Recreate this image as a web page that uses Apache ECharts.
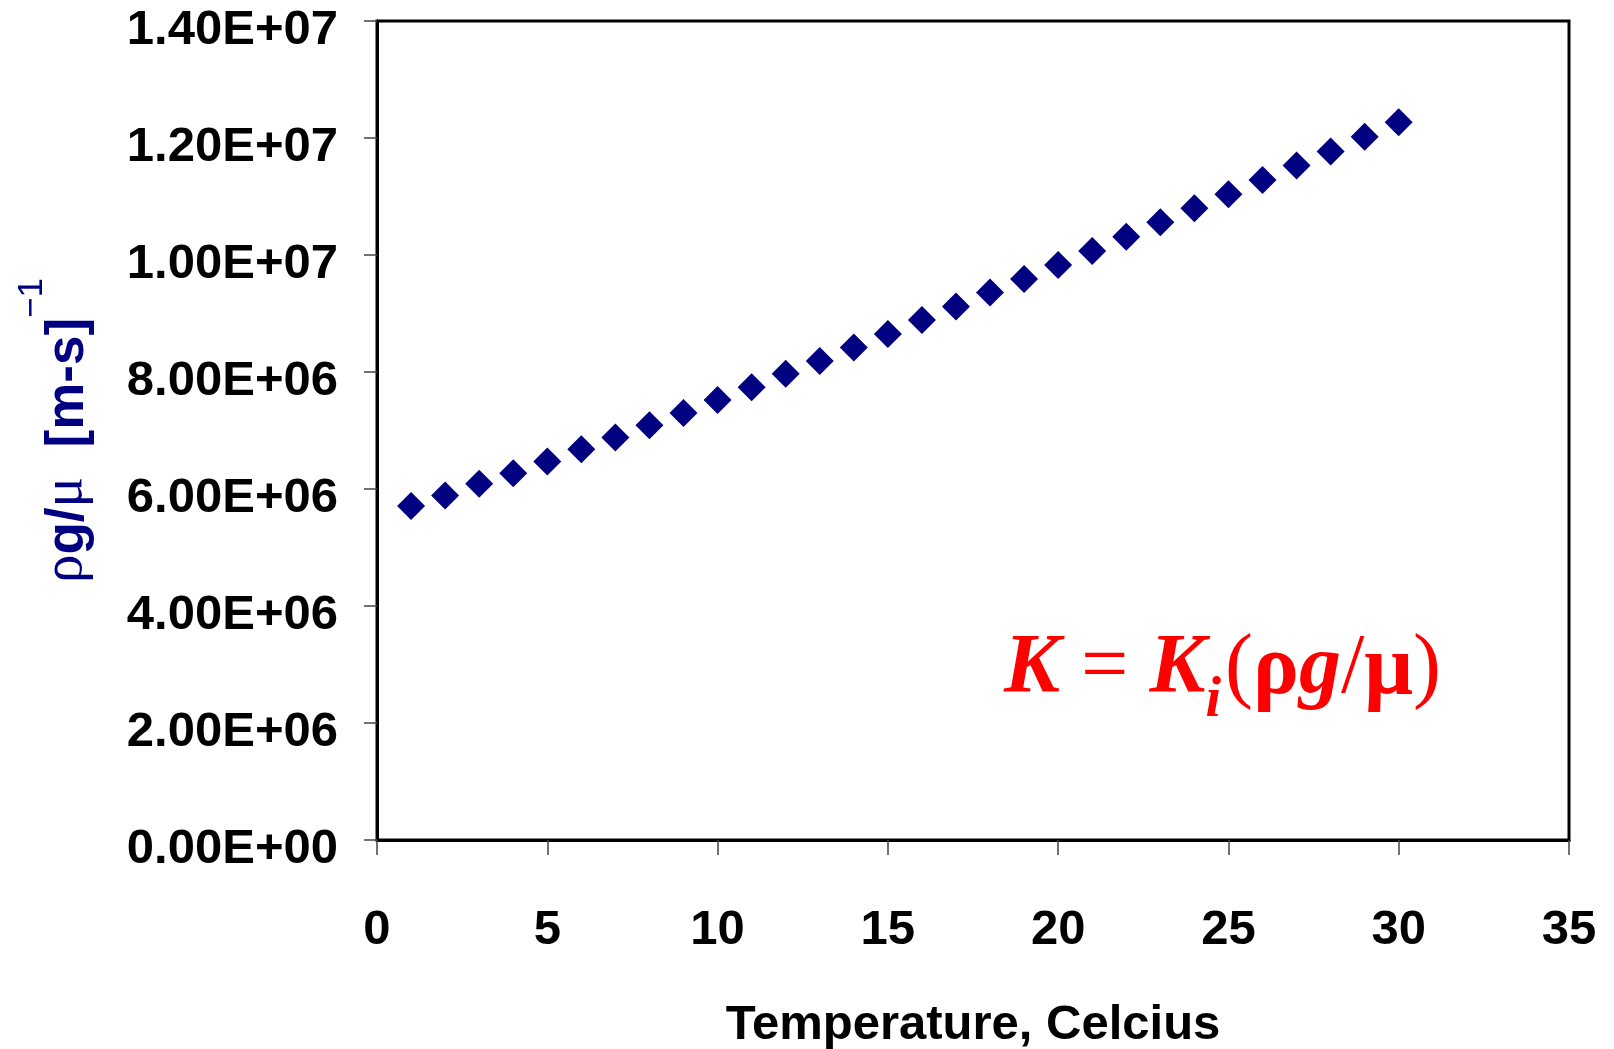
<!DOCTYPE html>
<html>
<head>
<meta charset="utf-8">
<script src="https://cdn.jsdelivr.net/npm/echarts@6/dist/echarts.min.js"></script>
<style>
  html, body { margin: 0; padding: 0; background: #fff; }
  #main { width: 1614px; height: 1049px; }
</style>
</head>
<body>
<div id="main"></div>
<script>
// temperature in Celcius
var temps = [1, 2, 3, 4, 5, 6, 7, 8, 9, 10, 11, 12, 13, 14, 15,
  16, 17, 18, 19, 20, 21, 22, 23, 24, 25, 26, 27, 28, 29, 30]
// rho*g/mu, in units of 1e6 [m-s]^-1
var rhoGMu = [5.71, 5.89, 6.09, 6.27, 6.47, 6.68, 6.88, 7.09, 7.30, 7.52,
  7.74, 7.97, 8.19, 8.42, 8.65, 8.89, 9.12, 9.36, 9.59, 9.83,
  10.07, 10.31, 10.56, 10.80, 11.04, 11.28, 11.53, 11.77, 12.02, 12.27]
var yTickValues = [0, 2e6, 4e6, 6e6, 8e6, 1e7, 1.2e7, 1.4e7]
var yTickLabels = ['0.00E+00', '2.00E+06', '4.00E+06', '6.00E+06',
  '8.00E+06', '1.00E+07', '1.20E+07', '1.40E+07']

var chartDom = document.getElementById('main')
var myChart = echarts.init(chartDom, null, { renderer: 'canvas' })

var points = temps.map(function (t, i) {
  return [t, rhoGMu[i] * 1e6]
})

var red = '#ff0000'
var navy = '#000080'
var serif = 'Liberation Serif'

var option = {
  animation: false,
  backgroundColor: '#fff',
  grid: {
    left: 377,
    right: 45,
    top: 21,
    bottom: 209,
    outerBoundsMode: 'none',
    containLabel: false,
    show: true,
    borderColor: '#000',
    borderWidth: 3,
  },
  xAxis: {
    type: 'value',
    min: 0,
    max: 35,
    interval: 5,
    name: 'Temperature, Celcius',
    nameLocation: 'middle',
    nameGap: 161,
    nameTextStyle: {
      fontFamily: 'Liberation Sans',
      fontWeight: 'bold',
      fontSize: 49,
      color: '#000',
    },
    axisLine: { show: true, lineStyle: { color: '#000', width: 3 } },
    axisTick: { show: true, length: 15, lineStyle: { color: '#444', width: 1.5 } },
    axisLabel: {
      margin: 66,
      fontFamily: 'Liberation Sans',
      fontWeight: 'bold',
      fontSize: 49,
      color: '#000',
    },
    splitLine: { show: false },
  },
  yAxis: {
    type: 'value',
    min: 0,
    max: 1.4e7,
    interval: 2e6,
    name: '{s|ρ}{b|g/}{s|μ}{b|  [m-s]}{sup|−1}',
    nameLocation: 'middle',
    nameRotate: 90,
    nameGap: 282,
    nameTextStyle: {
      color: navy,
      rich: {
        s: { fontFamily: serif, fontSize: 57, color: navy, lineHeight: 80, verticalAlign: 'bottom' },
        b: { fontFamily: 'Liberation Sans', fontWeight: 'bold', fontSize: 53, color: navy, lineHeight: 62, verticalAlign: 'bottom' },
        sup: { fontFamily: 'Liberation Sans', fontSize: 35, color: navy, lineHeight: 34, verticalAlign: 'top' },
      },
    },
    axisLine: { show: true, lineStyle: { color: '#000', width: 3 } },
    axisTick: { show: true, length: 13, lineStyle: { color: '#444', width: 1.5 } },
    axisLabel: {
      margin: 39,
      color: '#000',
      formatter: function (v) {
        var idx = yTickValues.indexOf(v)
        return idx >= 0 ? '{v|' + yTickLabels[idx] + '}' : ''
      },
      rich: {
        v: {
          fontFamily: 'Liberation Sans',
          fontWeight: 'bold',
          fontSize: 49,
          color: '#000',
          lineHeight: 50,
          padding: [19, 0, 0, 0],
        },
      },
    },
    splitLine: { show: false },
  },
  graphic: [
    {
      type: 'text',
      left: 1004,
      top: 628,
      z: 100,
      style: {
        text: '{k|K}{e| = }{k|K}{i|i}{p|(}{u|ρ}{k|g}{p|/}{u|μ}{p|)}',
        rich: {
          k: { fontFamily: serif, fontStyle: 'italic', fontWeight: 'bold', fontSize: 84, fill: red, lineHeight: 90, verticalAlign: 'top' },
          e: { fontFamily: serif, fontSize: 84, fill: red, lineHeight: 90, verticalAlign: 'top' },
          p: { fontFamily: serif, fontSize: 84, fill: red, lineHeight: 90, verticalAlign: 'top' },
          u: { fontFamily: serif, fontWeight: 'bold', fontSize: 86, fill: red, lineHeight: 90, verticalAlign: 'top' },
          i: { fontFamily: serif, fontStyle: 'italic', fontWeight: 'bold', fontSize: 56, fill: red, lineHeight: 56, padding: [46, 4, 0, 0], verticalAlign: 'top' },
        },
      },
    },
  ],
  series: [
    {
      type: 'scatter',
      data: points,
      symbol: 'diamond',
      symbolSize: 28,
      itemStyle: { color: navy, opacity: 1 },
    },
  ],
}

option && myChart.setOption(option)

window.addEventListener('resize', function () {
  myChart.resize()
})
</script>
</body>
</html>
